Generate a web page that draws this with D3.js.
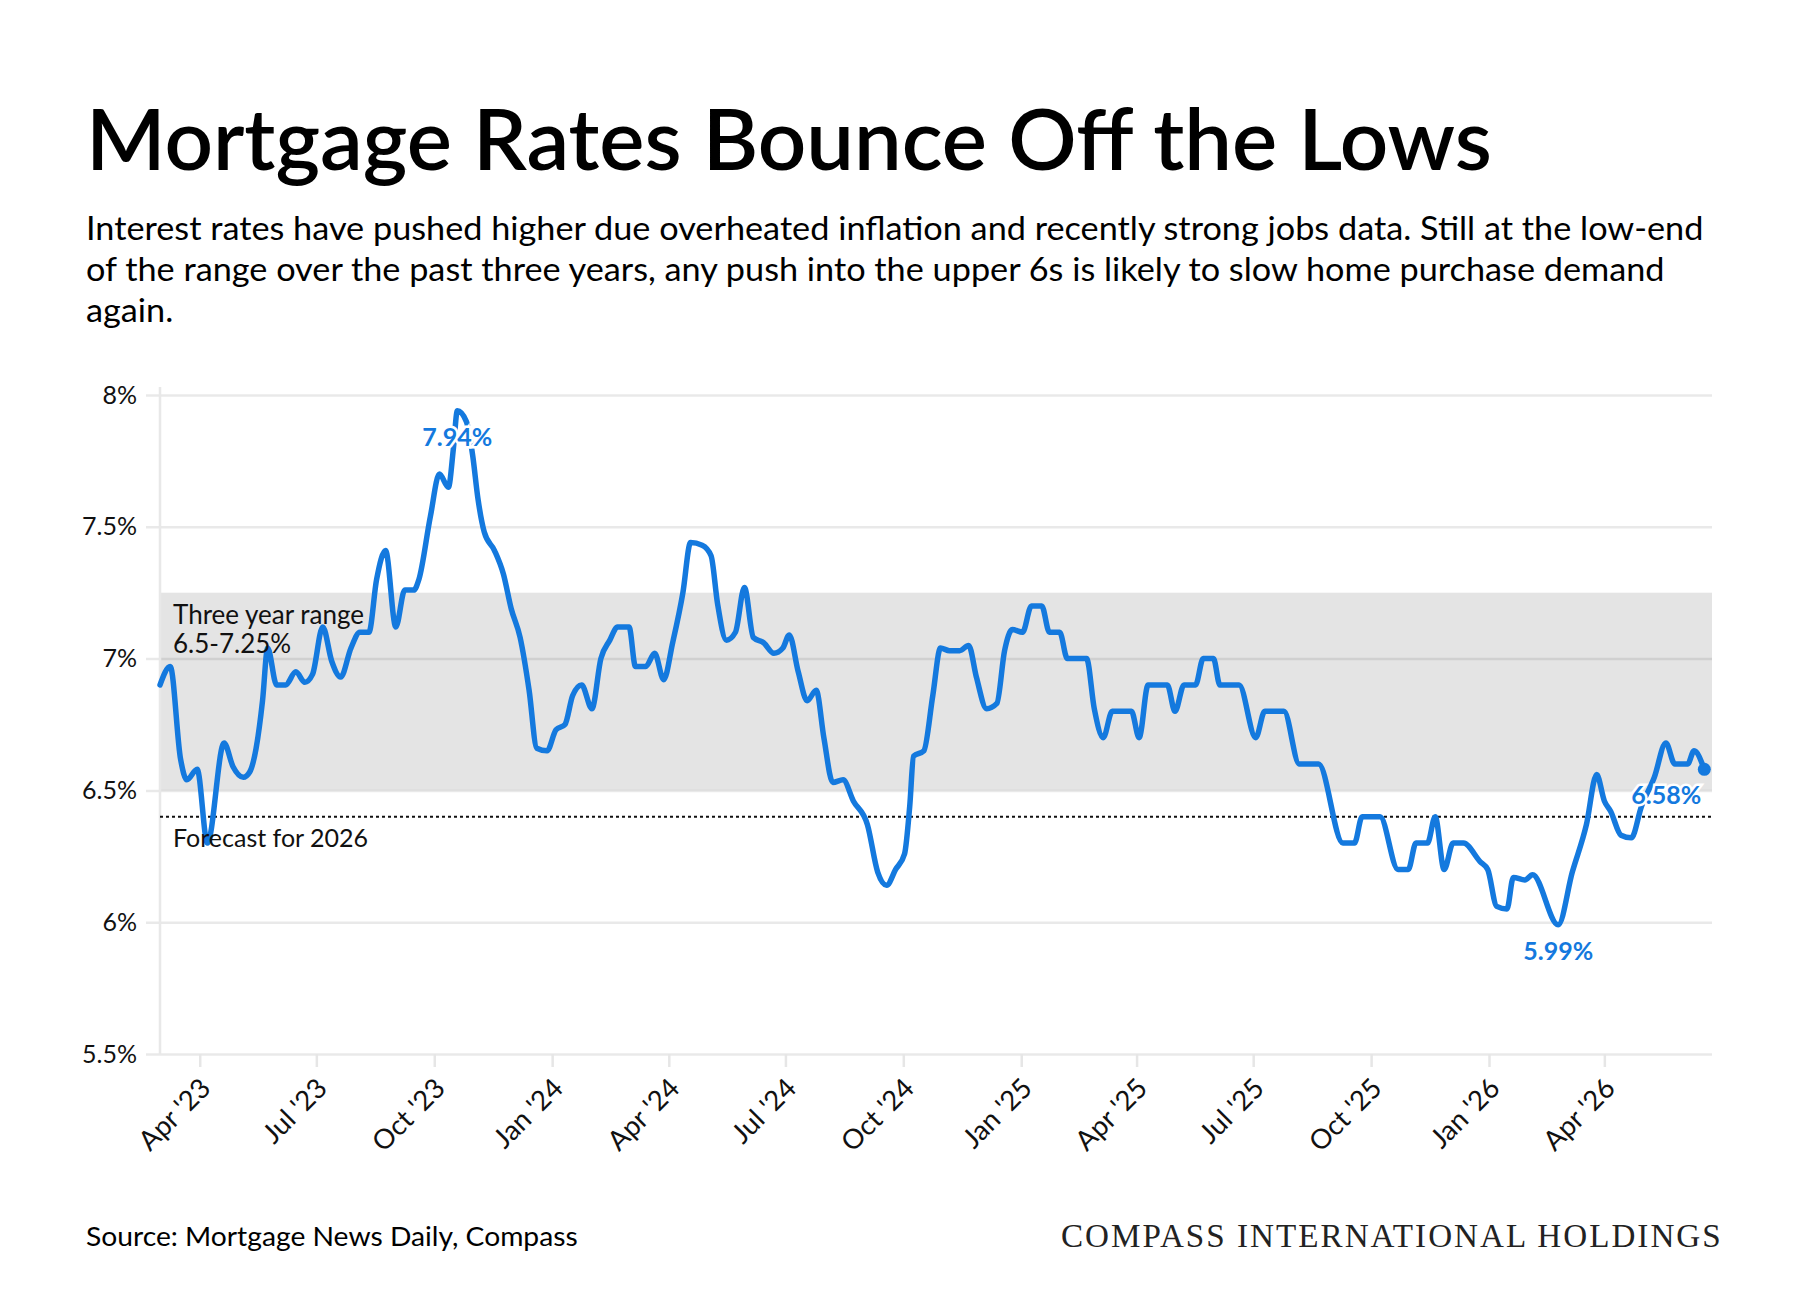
<!DOCTYPE html>
<html>
<head>
<meta charset="utf-8">
<title>Mortgage Rates Bounce Off the Lows</title>
<script src="https://d3js.org/d3.v7.min.js"></script>
<style>
  body { margin: 0; background: #fff; }
  text { font-family: Lato, "Noto Sans", sans-serif; }
</style>
</head>
<body>
<div id="chart"></div>
<script>
// 30 year fixed rate readings (%)
const dates = [
  "2023-03-01","2023-03-09","2023-03-17","2023-03-22","2023-03-30","2023-04-07","2023-04-20","2023-04-27",
  "2023-05-05","2023-05-10","2023-05-15","2023-05-20","2023-05-24","2023-05-31","2023-06-07","2023-06-15",
  "2023-06-22","2023-06-28","2023-07-06","2023-07-13","2023-07-20","2023-07-28","2023-08-04","2023-08-11",
  "2023-08-17","2023-08-24","2023-09-01","2023-09-08","2023-09-15","2023-09-19","2023-09-28","2023-10-05",
  "2023-10-12","2023-10-16","2023-10-19","2023-10-26","2023-10-31","2023-11-04","2023-11-09","2023-11-17",
  "2023-11-24","2023-11-30","2023-12-07","2023-12-14","2023-12-20","2023-12-28","2024-01-04","2024-01-11",
  "2024-01-17","2024-01-24","2024-02-01","2024-02-08","2024-02-15","2024-02-21","2024-03-01","2024-03-06",
  "2024-03-14","2024-03-21","2024-03-28","2024-04-04","2024-04-12","2024-04-18","2024-04-27","2024-05-04",
  "2024-05-09","2024-05-16","2024-05-23","2024-05-30","2024-06-06","2024-06-14","2024-06-22","2024-06-29",
  "2024-07-04","2024-07-11","2024-07-18","2024-07-25","2024-07-31","2024-08-07","2024-08-15","2024-08-23",
  "2024-09-03","2024-09-11","2024-09-18","2024-09-25","2024-10-02","2024-10-06","2024-10-09","2024-10-17",
  "2024-10-24","2024-10-30","2024-11-06","2024-11-14","2024-11-21","2024-11-27","2024-12-05","2024-12-13",
  "2024-12-19","2024-12-25","2025-01-02","2025-01-09","2025-01-17","2025-01-23","2025-01-31","2025-02-06",
  "2025-02-21","2025-02-27","2025-03-06","2025-03-13","2025-03-28","2025-04-03","2025-04-10","2025-04-25",
  "2025-05-01","2025-05-08","2025-05-17","2025-05-23","2025-05-31","2025-06-05","2025-06-20","2025-07-03",
  "2025-07-10","2025-07-25","2025-08-06","2025-08-21","2025-09-09","2025-09-18","2025-09-24","2025-10-08",
  "2025-10-22","2025-10-30","2025-11-05","2025-11-14","2025-11-20","2025-11-27","2025-12-04","2025-12-12",
  "2025-12-25","2025-12-31","2026-01-07","2026-01-15","2026-01-20","2026-01-29","2026-02-04","2026-02-24",
  "2026-03-07","2026-03-18","2026-03-26","2026-04-01","2026-04-06","2026-04-14","2026-04-22","2026-04-30",
  "2026-05-10","2026-05-19","2026-05-26","2026-06-05","2026-06-10","2026-06-18"
];
const rates = [
  6.90, 6.97, 6.62, 6.54, 6.58, 6.30, 6.68, 6.59,
  6.55, 6.57, 6.66, 6.84, 7.04, 6.90, 6.90, 6.95,
  6.91, 6.94, 7.12, 6.99, 6.93, 7.04, 7.10, 7.10,
  7.30, 7.41, 7.12, 7.26, 7.26, 7.30, 7.54, 7.70,
  7.65, 7.80, 7.94, 7.90, 7.77, 7.61, 7.48, 7.41,
  7.32, 7.19, 7.08, 6.88, 6.66, 6.65, 6.73, 6.75,
  6.86, 6.90, 6.81, 7.00, 7.07, 7.12, 7.12, 6.97,
  6.97, 7.02, 6.92, 7.06, 7.25, 7.44, 7.43, 7.39,
  7.21, 7.07, 7.10, 7.27, 7.08, 7.06, 7.02, 7.04,
  7.09, 6.95, 6.84, 6.88, 6.70, 6.53, 6.54, 6.46,
  6.37, 6.19, 6.14, 6.20, 6.26, 6.44, 6.63, 6.65,
  6.86, 7.04, 7.03, 7.03, 7.05, 6.93, 6.81, 6.83,
  7.03, 7.11, 7.10, 7.20, 7.20, 7.10, 7.10, 7.00,
  7.00, 6.81, 6.70, 6.80, 6.80, 6.70, 6.90, 6.90,
  6.80, 6.90, 6.90, 7.00, 7.00, 6.90, 6.90, 6.70,
  6.80, 6.80, 6.60, 6.60, 6.30, 6.30, 6.40, 6.40,
  6.20, 6.20, 6.30, 6.30, 6.40, 6.20, 6.30, 6.30,
  6.23, 6.20, 6.06, 6.05, 6.17, 6.16, 6.18, 5.99,
  6.19, 6.37, 6.56, 6.46, 6.42, 6.33, 6.32, 6.44,
  6.55, 6.68, 6.60, 6.60, 6.65, 6.58
];

const yTicks = [5.5, 6, 6.5, 7, 7.5, 8];
const xTickDates = ["2023-04-01","2023-07-01","2023-10-01","2024-01-01","2024-04-01","2024-07-01","2024-10-01",
                    "2025-01-01","2025-04-01","2025-07-01","2025-10-01","2026-01-01","2026-04-01"];
const xTickLabels = ["Apr '23","Jul '23","Oct '23","Jan '24","Apr '24","Jul '24","Oct '24",
                     "Jan '25","Apr '25","Jul '25","Oct '25","Jan '26","Apr '26"];
const xDomain = ["2023-03-01", "2026-06-24"];

const rangeBand = [6.5, 7.25];
const forecastRate = 6.4;

const calloutDates = ["2023-10-19", "2026-02-24", "2026-06-18"];
const calloutValues = [7.94, 5.99, 6.58];
const calloutLabels = ["7.94%", "5.99%", "6.58%"];

const title = "Mortgage Rates Bounce Off the Lows";
const subtitleLines = [
  "Interest rates have pushed higher due overheated inflation and recently strong jobs data. Still at the low-end",
  "of the range over the past three years, any push into the upper 6s is likely to slow home purchase demand",
  "again."
];
const source = "Source: Mortgage News Daily, Compass";
const brand = "COMPASS INTERNATIONAL HOLDINGS";

const blue = "#1479de";
const parse = d3.utcParse("%Y-%m-%d");
const data = dates.map((d, i) => ({date: parse(d), value: rates[i]}));

const W = 1800, H = 1300;
const plotL = 160, plotR = 1712, plotT = 395, plotB = 1054;

const svg = d3.select("#chart").append("svg")
    .attr("width", W).attr("height", H)
    .style("display", "block");

const x = d3.scaleUtc().domain(xDomain.map(parse)).range([plotL, plotR]);
const y = d3.scaleLinear().domain([5.5, 8]).range([plotB, plotT]);

// squeeze or stretch a text horizontally so it ends where the reference does
function fitWidth(sel, target) {
    const w = sel.node().getComputedTextLength();
    const k = target / w;
    const x0 = +sel.attr("x");
    sel.attr("transform", "translate(" + x0 + ",0) scale(" + k + ",1) translate(" + (-x0) + ",0)");
    return k;
}

// header
const t = svg.append("text")
    .attr("x", 86).attr("y", 170)
    .attr("font-size", 84).attr("font-weight", 600)
    .attr("fill", "#000")
    .text(title);
fitWidth(t, 1406);

const subs = svg.append("g");
subtitleLines.forEach((line, i) => {
    subs.append("text")
        .attr("x", 86).attr("y", 240 + i * 41)
        .attr("font-size", 32)
        .attr("fill", "#000")
        .text(line);
});
const k = subs.select("text").node().getComputedTextLength();
subs.attr("transform", "translate(86,0) scale(" + (1618 / k) + ",1) translate(-86,0)");

// three year range band
svg.append("rect")
    .attr("x", plotL).attr("width", plotR - plotL)
    .attr("y", y(rangeBand[1])).attr("height", y(rangeBand[0]) - y(rangeBand[1]))
    .attr("fill", "#e4e4e4");

// y axis with grid lines
const yAxis = d3.axisLeft(y)
    .tickValues(yTicks)
    .tickSize(plotR - plotL + 14)
    .tickPadding(9)
    .tickFormat(d => d + "%");

svg.append("g")
    .attr("transform", "translate(" + plotR + ",0)")
    .call(yAxis)
    .call(g => g.select(".domain").remove())
    .call(g => g.selectAll(".tick line")
        .attr("stroke", "rgba(0,0,0,0.085)").attr("stroke-width", 2.5))
    .call(g => g.selectAll(".tick text")
        .attr("x", -(plotR - plotL) - 23)
        .attr("font-size", 25).attr("fill", "#111")
        .style("font-family", "Lato, 'Noto Sans', sans-serif"));

// vertical axis line
svg.append("line")
    .attr("x1", plotL).attr("x2", plotL)
    .attr("y1", plotT - 8).attr("y2", plotB)
    .attr("stroke", "#e8e8e8").attr("stroke-width", 2.5);

// x axis
const xAxis = d3.axisBottom(x)
    .tickValues(xTickDates.map(parse))
    .tickSize(13)
    .tickFormat((d, i) => xTickLabels[i]);

svg.append("g")
    .attr("transform", "translate(0," + plotB + ")")
    .call(xAxis)
    .call(g => g.select(".domain").remove())
    .call(g => g.selectAll(".tick line")
        .attr("stroke", "#e6e6e6").attr("stroke-width", 2.5))
    .call(g => g.selectAll(".tick text")
        .attr("x", 0).attr("y", 0).attr("dy", 0)
        .attr("text-anchor", "end")
        .attr("transform", "translate(12,36) rotate(-45)")
        .attr("font-size", 27.5).attr("fill", "#111")
        .style("font-family", "Lato, 'Noto Sans', sans-serif"));

// forecast line
svg.append("line")
    .attr("x1", plotL).attr("x2", plotR)
    .attr("y1", y(forecastRate)).attr("y2", y(forecastRate))
    .attr("stroke", "#111").attr("stroke-width", 2)
    .attr("stroke-dasharray", "3,3");

// rate line
const line = d3.line()
    .x(d => x(d.date))
    .y(d => y(d.value))
    .curve(d3.curveMonotoneX);

svg.append("path")
    .datum(data)
    .attr("d", line)
    .attr("fill", "none")
    .attr("stroke", blue)
    .attr("stroke-width", 5.5)
    .attr("stroke-linejoin", "round")
    .attr("stroke-linecap", "round");

// annotations
svg.append("text")
    .attr("x", 173).attr("y", 624)
    .attr("font-size", 26).attr("fill", "#111")
    .text("Three year range");
svg.append("text")
    .attr("x", 173).attr("y", 653)
    .attr("font-size", 26).attr("fill", "#111")
    .text("6.5-7.25%");
svg.append("text")
    .attr("x", 173).attr("y", 847)
    .attr("font-size", 25).attr("fill", "#111")
    .text("Forecast for 2026");

// callouts
const calloutDx = [0, 0, -38];
calloutLabels.forEach((lab, i) => {
    svg.append("text")
        .attr("x", x(parse(calloutDates[i])) + calloutDx[i])
        .attr("y", y(calloutValues[i]) + 35)
        .attr("text-anchor", "middle")
        .attr("font-size", 25).attr("font-weight", 700)
        .attr("fill", blue)
        .attr("stroke", "#fff").attr("stroke-width", 5)
        .attr("paint-order", "stroke")
        .text(lab);
});

// end point
const last = data[data.length - 1];
svg.append("circle")
    .attr("cx", x(last.date)).attr("cy", y(last.value))
    .attr("r", 6.5).attr("fill", blue);

// footer
const src = svg.append("text")
    .attr("x", 86).attr("y", 1246)
    .attr("font-size", 27).attr("fill", "#000")
    .text(source);
fitWidth(src, 492);

const br = svg.append("text")
    .attr("x", 1061).attr("y", 1247)
    .attr("font-size", 33).attr("fill", "#222")
    .attr("letter-spacing", 2)
    .style("font-family", "'Liberation Serif', 'DejaVu Serif', serif")
    .text(brand);
fitWidth(br, 662);
</script>
</body>
</html>
